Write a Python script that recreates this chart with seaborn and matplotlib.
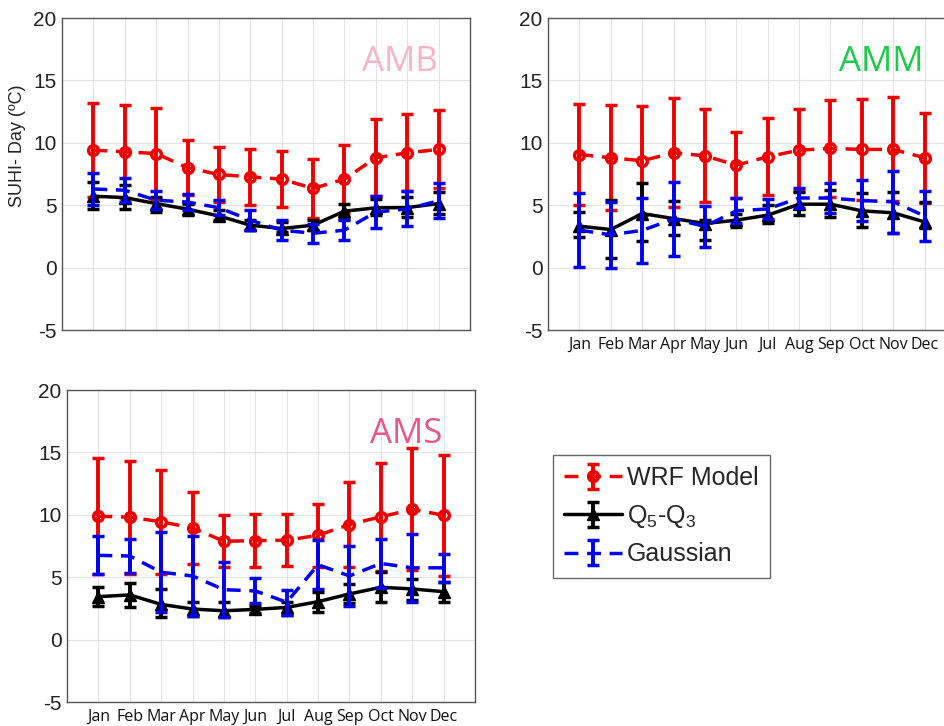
import numpy as np
import pandas as pd
import seaborn as sns
from matplotlib import pyplot as plt

months = ["Jan", "Feb", "Mar", "Apr", "May", "Jun", "Jul", "Aug", "Sep", "Oct", "Nov", "Dec"]

# WRF model: mean and half-width of the bar
amb_wrf = [9.41, 9.28, 9.14, 8.0, 7.46, 7.27, 7.09, 6.34, 7.09, 8.8, 9.2, 9.47]
amb_wrf_err = [3.74, 3.72, 3.61, 2.2, 2.22, 2.23, 2.24, 2.35, 2.71, 3.1, 3.1, 3.13]
amm_wrf = [9.06, 8.8, 8.56, 9.2, 8.96, 8.21, 8.88, 9.41, 9.55, 9.47, 9.47, 8.8]
amm_wrf_err = [4.01, 4.22, 4.38, 4.36, 3.71, 2.65, 3.07, 3.26, 3.87, 4.03, 4.17, 3.61]
ams_wrf = [9.89, 9.81, 9.44, 8.95, 7.88, 7.93, 7.96, 8.36, 9.22, 9.84, 10.43, 9.97]
ams_wrf_err = [4.65, 4.52, 4.16, 2.9, 2.09, 2.1, 2.07, 2.53, 3.41, 4.35, 4.89, 4.84]

# Q5-Q3: median with lower / upper ends
amb_q = [5.72, 5.61, 5.13, 4.68, 4.14, 3.4, 3.13, 3.4, 4.52, 4.79, 4.81, 5.13]
amb_q_hi = [6.87, 6.6, 5.67, 5.13, 4.6, 3.8, 3.66, 3.8, 5.13, 5.53, 5.67, 6.07]
amb_q_lo = [4.73, 4.73, 4.47, 4.2, 3.8, 3.0, 2.86, 3.0, 3.93, 4.2, 4.06, 4.33]
amm_q = [3.32, 3.05, 4.33, 3.93, 3.53, 3.8, 4.2, 5.08, 5.08, 4.55, 4.39, 3.66]
amm_q_hi = [4.46, 5.4, 6.78, 5.34, 3.8, 4.33, 5.0, 6.06, 6.2, 5.97, 6.06, 5.26]
amm_q_lo = [2.45, 0.77, 2.13, 2.6, 2.21, 3.26, 3.58, 4.2, 4.05, 3.25, 2.8, 3.2]
ams_q = [3.44, 3.58, 2.82, 2.45, 2.31, 2.42, 2.58, 3.04, 3.66, 4.19, 4.06, 3.84]
ams_q_hi = [4.19, 4.52, 4.03, 3.04, 2.98, 2.69, 3.04, 3.84, 4.44, 5.4, 4.84, 4.65]
ams_q_lo = [2.72, 2.63, 1.83, 1.88, 1.83, 2.1, 1.96, 2.18, 2.9, 3.04, 3.17, 3.04]

# Gaussian: mean and half-width
amb_gau = [6.3, 6.2, 5.4, 5.25, 4.8, 3.8, 3.0, 2.75, 3.0, 4.45, 4.7, 5.35]
amb_gau_err = [1.3, 0.95, 0.72, 0.65, 0.6, 0.78, 0.78, 0.75, 0.78, 1.25, 1.4, 1.4]
amm_gau = [3.0, 2.63, 2.98, 3.9, 3.3, 4.55, 4.7, 5.58, 5.57, 5.37, 5.28, 4.13]
amm_gau_err = [2.97, 2.63, 2.6, 2.97, 1.65, 1.0, 0.78, 0.8, 1.2, 1.63, 2.5, 2.0]
ams_gau = [6.75, 6.7, 5.4, 5.1, 4.0, 3.9, 3.0, 6.0, 5.1, 6.1, 5.75, 5.75]
ams_gau_err = [1.52, 1.4, 3.2, 3.2, 2.18, 1.0, 1.0, 1.95, 2.4, 2.0, 2.7, 1.1]

regions = {
    "AMB": (amb_wrf, amb_wrf_err, amb_q, amb_q_lo, amb_q_hi, amb_gau, amb_gau_err),
    "AMM": (amm_wrf, amm_wrf_err, amm_q, amm_q_lo, amm_q_hi, amm_gau, amm_gau_err),
    "AMS": (ams_wrf, ams_wrf_err, ams_q, ams_q_lo, ams_q_hi, ams_gau, ams_gau_err),
}
title_colors = {"AMB": "#F8B3CA", "AMM": "#1DCB4C", "AMS": "#E8578A"}

sns.set_theme(style="whitegrid")
plt.rcParams['font.family'] = ['Liberation Sans', 'DejaVu Sans']
plt.rcParams['mathtext.default'] = 'regular'
plt.rcParams['axes.unicode_minus'] = False

fig = plt.figure(figsize=(9.45, 7.26), dpi=100)
W, H = 945, 726
boxes = {
    "AMB": [62 / W, 1 - 330 / H, 408 / W, 312 / H],
    "AMM": [548 / W, 1 - 330 / H, 408 / W, 312 / H],
    "AMS": [67 / W, 1 - 702 / H, 408 / W, 312 / H],
}

x = np.arange(1, 13)
handles = None
for name, (wrf, wrf_err, q, q_lo, q_hi, gau, gau_err) in regions.items():
    ax = fig.add_axes(boxes[name])
    df = pd.DataFrame({"month": x, "wrf": wrf, "q": q, "gau": gau})
    q_err = [np.array(q) - np.array(q_lo), np.array(q_hi) - np.array(q)]

    h1 = ax.errorbar(df["month"], df["wrf"], yerr=wrf_err, color="#EE0000", ls=(0, (4, 2.5)),
                     lw=2.5, marker="o", ms=7, mfc="none", mew=2.5, elinewidth=2.8,
                     capsize=4, capthick=2.5, zorder=3, label="WRF Model")
    h2 = ax.errorbar(df["month"], df["q"], yerr=q_err, color="black", ls="-", lw=2.5,
                     marker="^", ms=8, elinewidth=2.8, capsize=4, capthick=2.5,
                     zorder=4, label=r"Q$_5$-Q$_3$")
    h3 = ax.errorbar(df["month"], df["gau"], yerr=gau_err, color="#0000EE", ls=(0, (4, 2.5)),
                     lw=2.5, elinewidth=2.8, capsize=4, capthick=2.5, zorder=5,
                     label="Gaussian")
    if name == "AMS":
        handles = [h1, h2, h3]

    ax.set_xlim(0, 13)
    ax.set_ylim(-5, 20)
    ax.set_xticks(x)
    ax.set_yticks([-5, 0, 5, 10, 15, 20])
    ax.grid(True, color="#E3E3E3", lw=0.8)
    ax.set_facecolor("white")
    for s in ax.spines.values():
        s.set_color("#555555")
        s.set_linewidth(1.0)
    ax.tick_params(axis="y", labelsize=15, colors="#222222", length=0, pad=4)
    if name == "AMB":
        ax.set_xticklabels([])
        ax.set_ylabel("SUHI- Day (ºC)", fontsize=13, color="#222222")
        ax.yaxis.set_label_coords(-0.088, 0.59)
    else:
        ax.set_xticklabels(months, fontsize=11.5, family=["Open Sans", "DejaVu Sans"])
    ax.tick_params(axis="x", colors="#111111", length=3, direction="in", pad=5)
    ax.text(0.92, 0.86, name, transform=ax.transAxes, ha="right", va="center",
            fontsize=25, color=title_colors[name], family=["Open Sans", "DejaVu Sans"])

fig.legend(handles, ["WRF Model", r"Q$_5$-Q$_3$", "Gaussian"], loc="upper left",
           bbox_to_anchor=(553 / W, 1 - 455 / H), fontsize=18, frameon=True,
           fancybox=False, edgecolor="#666666", framealpha=1, handlelength=2.3,
           handletextpad=0.2, labelspacing=0.5, borderpad=0.45, borderaxespad=0)

fig.savefig("out.png", dpi=100)
